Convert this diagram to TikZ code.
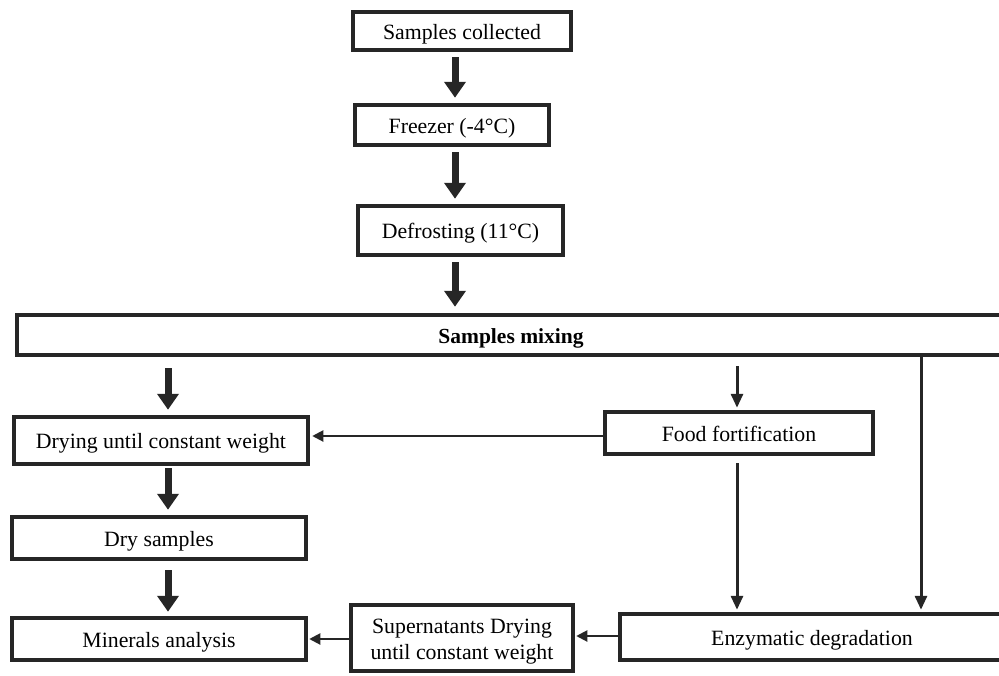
\documentclass[tikz,border=0pt]{standalone}
\usepackage{fontspec}
\setmainfont{Liberation Serif}
\usetikzlibrary{arrows.meta}
\begin{document}
\begin{tikzpicture}[x=1pt,y=-1pt,
  box/.style={draw=black!85,line width=4.5pt,inner sep=0pt,font=\fontsize{21.8}{26}\selectfont,align=center,text height=18pt,text depth=2pt},
  bigarrow/.style={draw=black!85,line width=7pt,-{Triangle[width=21pt,length=16pt]}},
  midarrow/.style={draw=black!85,line width=3pt,-{Triangle[width=12pt,length=14pt]}},
  thinarrow/.style={draw=black!85,line width=2pt,-{Triangle[width=11pt,length=11pt]}}]
\clip (0,0) rectangle (999,675);
\useasboundingbox (0,0) rectangle (999,675);
\fill[white] (0,0) rectangle (999,675);

\node[box,minimum width=218pt,minimum height=38pt] (sc) at (462,31) {Samples collected};
\node[box,minimum width=194pt,minimum height=40pt] (fr) at (452,125) {Freezer (-4°C)};
\node[box,minimum width=205pt,minimum height=49pt] (de) at (460.5,230.5) {Defrosting (11°C)};
\node[box,minimum width=988pt,minimum height=40pt,font=\fontsize{21.5}{26}\selectfont\bfseries] (mix) at (511,335) {Samples mixing};
\node[box,minimum width=294pt,minimum height=47pt] (dr) at (161,440.5) {Drying until constant weight};
\node[box,minimum width=268pt,minimum height=42pt] (ff) at (739,433) {Food fortification};
\node[box,minimum width=294pt,minimum height=42pt] (ds) at (159,538) {Dry samples};
\node[box,minimum width=294pt,minimum height=42pt] (ma) at (159,639) {Minerals analysis};
\node[box,text height=,text depth=,minimum width=222pt,minimum height=66pt,
  label={[yshift=-4pt,align=center,inner sep=0pt,font=\fontsize{21.8}{26}\selectfont]center:Supernatants Drying\\until constant weight}] (su) at (462,638) {};
\node[box,minimum width=384pt,minimum height=46pt] (en) at (812,637) {Enzymatic degradation};

\coordinate (xa) at (455,0);
\coordinate (xb) at (168,0);
\coordinate (xc) at (737,0);
\coordinate (xd) at (921,0);

\draw[bigarrow,shorten <=5pt,shorten >=5pt] (sc.south -| xa) -- (fr.north -| xa);
\draw[bigarrow,shorten <=5pt,shorten >=5pt] (fr.south -| xa) -- (de.north -| xa);
\draw[bigarrow,shorten <=5pt,shorten >=6pt] (de.south -| xa) -- (mix.north -| xa);
\draw[bigarrow,shorten <=11pt,shorten >=5pt] (mix.south -| xb) -- (dr.north -| xb);
\draw[bigarrow,shorten <=2pt,shorten >=5pt] (dr.south -| xb) -- (ds.north -| xb);
\draw[bigarrow,shorten <=9pt,shorten >=4pt] (ds.south -| xb) -- (ma.north -| xb);
\draw[midarrow,shorten <=9pt,shorten >=2pt] (mix.south -| xc) -- (ff.north -| xc);
\draw[thinarrow,shorten >=2pt] (ff.west |- 0,436) -- (dr.east |- 0,436);
\draw[midarrow,shorten <=7pt,shorten >=2pt] (ff.south -| xc) -- (en.north -| xc);
\draw[midarrow,shorten >=2pt] (mix.south -| xd) -- (en.north -| xd);
\draw[thinarrow,shorten >=1pt] (en.west |- 0,636) -- (su.east |- 0,636);
\draw[thinarrow,shorten >=1pt] (su.west |- 0,639) -- (ma.east |- 0,639);
\end{tikzpicture}
\end{document}
